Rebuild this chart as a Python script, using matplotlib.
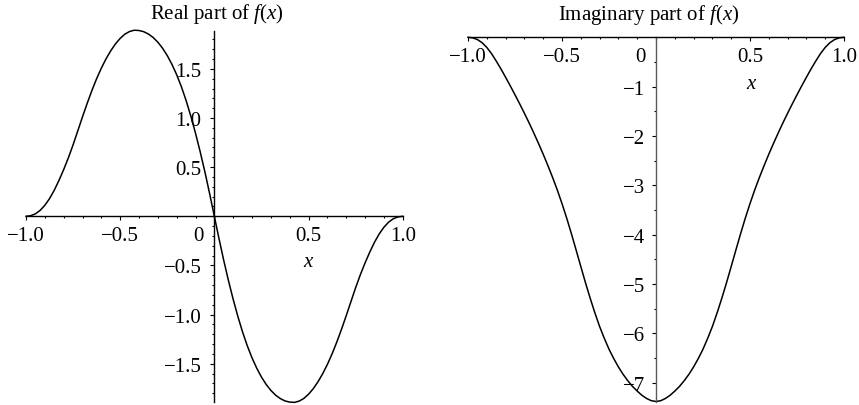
import matplotlib
matplotlib.use('Agg')
import matplotlib.pyplot as plt
import matplotlib.transforms as mtrans
from matplotlib.ticker import MultipleLocator

plt.rcParams['font.family'] = ['Liberation Serif', 'DejaVu Serif']
plt.rcParams['mathtext.fontset'] = 'custom'
plt.rcParams['mathtext.rm'] = 'Liberation Serif'
plt.rcParams['mathtext.it'] = 'Liberation Serif:italic'

# ---- data ----
x_vals = [-1.000, -0.975, -0.950, -0.925, -0.900, -0.875, -0.850, -0.825, -0.800, -0.775,
          -0.750, -0.725, -0.700, -0.675, -0.650, -0.625, -0.600, -0.575, -0.550, -0.525,
          -0.500, -0.475, -0.450, -0.425, -0.400, -0.375, -0.350, -0.325, -0.300, -0.275,
          -0.250, -0.225, -0.200, -0.175, -0.150, -0.125, -0.100, -0.075, -0.050, -0.025,
          0.000,
          0.025, 0.050, 0.075, 0.100, 0.125, 0.150, 0.175, 0.200, 0.225, 0.250,
          0.275, 0.300, 0.325, 0.350, 0.375, 0.400, 0.425, 0.450, 0.475, 0.500,
          0.525, 0.550, 0.575, 0.600, 0.625, 0.650, 0.675, 0.700, 0.725, 0.750,
          0.775, 0.800, 0.825, 0.850, 0.875, 0.900, 0.925, 0.950, 0.975, 1.000]

real_vals = [0.0, 0.006, 0.025, 0.06, 0.112, 0.18, 0.265, 0.365, 0.475, 0.595,
             0.727, 0.869, 1.012, 1.15, 1.28, 1.40, 1.507, 1.602, 1.684, 1.754,
             1.81, 1.853, 1.88, 1.893, 1.89, 1.878, 1.854, 1.819, 1.771, 1.71,
             1.635, 1.545, 1.44, 1.318, 1.178, 1.02, 0.845, 0.655, 0.45, 0.23,
             0.0,
             -0.23, -0.45, -0.655, -0.845, -1.02, -1.178, -1.318, -1.44, -1.545, -1.635,
             -1.71, -1.771, -1.819, -1.854, -1.878, -1.89, -1.893, -1.88, -1.853, -1.81,
             -1.754, -1.684, -1.602, -1.507, -1.40, -1.28, -1.15, -1.012, -0.869, -0.727,
             -0.595, -0.475, -0.365, -0.265, -0.18, -0.112, -0.06, -0.025, -0.006, 0.0]

imag_vals = [0.0, -0.011, -0.045, -0.11, -0.205, -0.33, -0.48, -0.64, -0.81, -0.985,
             -1.165, -1.35, -1.54, -1.735, -1.94, -2.15, -2.37, -2.60, -2.84, -3.095,
             -3.37, -3.665, -3.98, -4.31, -4.645, -4.975, -5.29, -5.585, -5.86, -6.10,
             -6.32, -6.51, -6.68, -6.83, -6.96, -7.075, -7.17, -7.255, -7.32, -7.365,
             -7.38,
             -7.365, -7.32, -7.255, -7.17, -7.075, -6.96, -6.83, -6.68, -6.51, -6.32,
             -6.10, -5.86, -5.585, -5.29, -4.975, -4.645, -4.31, -3.98, -3.665, -3.37,
             -3.095, -2.84, -2.60, -2.37, -2.15, -1.94, -1.735, -1.54, -1.35, -1.165,
             -0.985, -0.81, -0.64, -0.48, -0.33, -0.205, -0.11, -0.045, -0.011, 0.0]

x_ticks = [-1.0, -0.5, 0.0, 0.5, 1.0]
x_tick_labels = ['\u22121.0', '\u22120.5', '0', '0.5', '1.0']
real_yticks = [-1.5, -1.0, -0.5, 0.5, 1.0, 1.5]
real_ytick_labels = ['\u22121.5', '\u22121.0', '\u22120.5', '0.5', '1.0', '1.5']
imag_yticks = [-7, -6, -5, -4, -3, -2, -1]
imag_ytick_labels = ['\u22127', '\u22126', '\u22125', '\u22124', '\u22123', '\u22122', '\u22121']

W, H = 859, 406
FS = 15
fig = plt.figure(figsize=(W / 100, H / 100), dpi=100)

def setup(ax, ypad, ycolor):
    for s in ['top', 'right']:
        ax.spines[s].set_visible(False)
    ax.spines['left'].set_position(('data', 0))
    ax.spines['bottom'].set_position(('data', 0))
    ax.spines['left'].set_color(ycolor)
    for s in ['left', 'bottom']:
        ax.spines[s].set_linewidth(1.0)
    ax.set_xticks(x_ticks, labels=x_tick_labels)
    ax.xaxis.set_minor_locator(MultipleLocator(0.1))
    ax.tick_params(which='major', length=3.2, width=0.8, labelsize=FS, direction='out')
    ax.tick_params(which='minor', length=1.6, width=0.8, direction='out')
    ax.tick_params(axis='x', which='major', pad=4)
    ax.tick_params(axis='y', which='major', pad=ypad)
    ax.patch.set_visible(False)

# Left: real part
ax1 = fig.add_axes([26 / W, 3 / H, 376.7 / W, 371.3 / H])
ax1.plot(x_vals, real_vals, color='black', lw=1.1, clip_on=False)
ax1.set_xlim(-1, 1)
ax1.set_ylim(-1.889, 1.888)
setup(ax1, 6, 'black')
ax1.set_yticks(real_yticks, labels=real_ytick_labels)
ax1.yaxis.set_minor_locator(MultipleLocator(0.1))
ax1.text(0.5, -0.455, '$x$', fontsize=FS, ha='center', va='center')

# Right: imaginary part
ax2 = fig.add_axes([468 / W, 3.3 / H, 376 / W, 364.4 / H])
ax2.plot(x_vals, imag_vals, color='black', lw=1.1, clip_on=False)
ax2.set_xlim(-1, 1)
ax2.set_ylim(-7.385, 0)
setup(ax2, 4.5, '#5a5a5a')
ax2.set_yticks(imag_yticks, labels=imag_ytick_labels)
ax2.yaxis.set_minor_locator(MultipleLocator(0.5))
ax2.text(0.51, -0.93, '$x$', fontsize=FS, ha='center', va='center')

fig.text(217 / W, 1 - 14 / H, 'Real part of $f(x)$', ha='center', va='center', fontsize=FS)
fig.text(649 / W, 1 - 15 / H, 'Imaginary part of $f(x)$', ha='center', va='center', fontsize=FS)

# shift the "0" x tick labels left of the vertical axis
for ax, dx in [(ax1, -16), (ax2, -16)]:
    lab = ax.get_xticklabels()[2]
    lab.set_transform(lab.get_transform() + mtrans.ScaledTranslation(dx / 100, 0, fig.dpi_scale_trans))

fig.savefig('out.png', dpi=100)
